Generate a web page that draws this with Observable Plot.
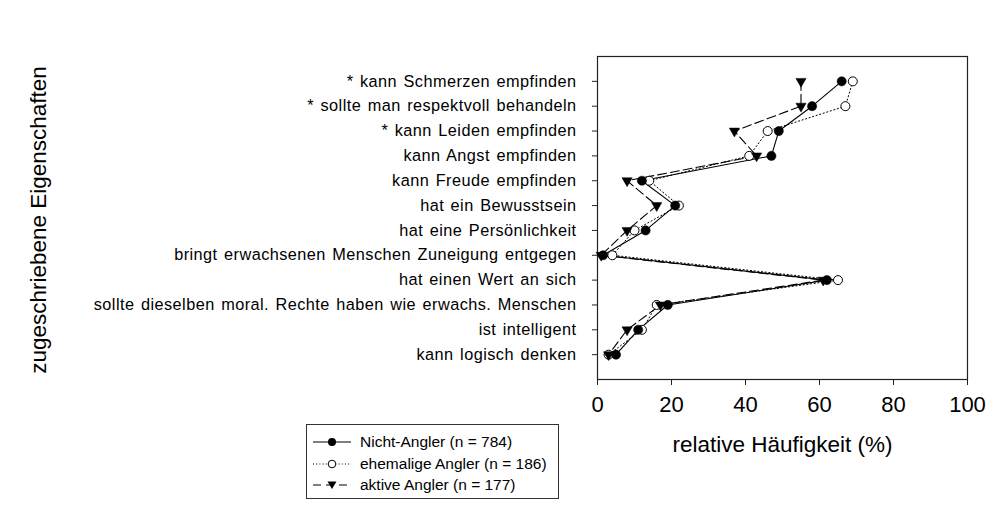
<!DOCTYPE html>
<html>
<head>
<meta charset="utf-8">
<script src="https://cdn.jsdelivr.net/npm/d3@7"></script>
<script src="https://cdn.jsdelivr.net/npm/@observablehq/plot@0.6"></script>
<style>
  body { margin: 0; background: #fff; font-family: "Liberation Sans", Arial, sans-serif; }
  #wrap { position: relative; width: 990px; height: 509px; }
  #legend { position: absolute; left: 306px; top: 424px; width: 251px; height: 73px;
            border: 1px solid #333; background: #fff; box-sizing: content-box; }
  .entry { position: absolute; left: 6px; height: 20px; display: flex; align-items: center;
           font-size: 15.5px; color: #000; white-space: nowrap; }
  .entry svg { margin-right: 9px; }
  .ylab text { letter-spacing: 0.45px; word-spacing: 1.5px; }
</style>
</head>
<body>
<div id="wrap"></div>
<script>
const categories = [
  "* kann Schmerzen empfinden",
  "* sollte man respektvoll behandeln",
  "* kann Leiden empfinden",
  "kann Angst empfinden",
  "kann Freude empfinden",
  "hat ein Bewusstsein",
  "hat eine Persönlichkeit",
  "bringt erwachsenen Menschen Zuneigung entgegen",
  "hat einen Wert an sich",
  "sollte dieselben moral. Rechte haben wie erwachs. Menschen",
  "ist intelligent",
  "kann logisch denken"
];
const nichtAngler      = [66, 58, 49, 47, 12, 21, 13, 1.5, 62, 19, 11, 5];
const ehemaligeAngler  = [69, 67, 46, 41, 14, 22, 10, 4, 65, 16, 12, 3];
const aktiveAngler     = [55, 55, 37, 43, 8, 16, 8, 1, 61, 17, 8, 3];
const seriesNames = ["Nicht-Angler (n = 784)", "ehemalige Angler (n = 186)", "aktive Angler (n = 177)"];
const xTicks = [0, 20, 40, 60, 80, 100];
const xLabel = "relative Häufigkeit (%)";
const yLabel = "zugeschriebene Eigenschaften";

const toRows = (vals, s) => vals.map((v, i) => ({cat: categories[i], value: v, series: s}));
const nicht = toRows(nichtAngler, seriesNames[0]);
const ehem = toRows(ehemaligeAngler, seriesNames[1]);
const aktiv = toRows(aktiveAngler, seriesNames[2]);

const chart = Plot.plot({
  width: 990,
  height: 509,
  marginLeft: 597,
  marginRight: 23,
  marginTop: 56,
  marginBottom: 130,
  style: {fontFamily: "'Liberation Sans', Arial, sans-serif", color: "#000", background: "#fff"},
  x: {domain: [0, 100]},
  y: {type: "point", domain: categories, padding: 1, round: false},
  marks: [
    Plot.frame({stroke: "#222", strokeWidth: 1.2}),
    Plot.axisX({ticks: xTicks, tickSize: 6, tickPadding: 11, fontSize: 22, label: null, stroke: "#222"}),
    Plot.axisY({tickSize: 5, tickPadding: 16, fontSize: 16.3, label: null, stroke: "#222", className: "ylab"}),
    Plot.text([xLabel], {frameAnchor: "bottom", dy: 72, fontSize: 22.5}),
    Plot.text([yLabel], {frameAnchor: "left", textAnchor: "middle", rotate: -90, dx: -559, dy: 2, fontSize: 22.5}),
    Plot.line(ehem, {x: "value", y: "cat", stroke: "#000", strokeWidth: 1, strokeDasharray: "1.2,2.5"}),
    Plot.line(nicht, {x: "value", y: "cat", stroke: "#000", strokeWidth: 1.1}),
    Plot.line(aktiv, {x: "value", y: "cat", stroke: "#000", strokeWidth: 1.1, strokeDasharray: "9,4"}),
    Plot.dot(ehem, {x: "value", y: "cat", r: 4.5, fill: "#fff", stroke: "#000", strokeWidth: 1}),
    Plot.dot(nicht, {x: "value", y: "cat", r: 4.6, fill: "#000", stroke: "#000", strokeWidth: 0.5}),
    Plot.dot(aktiv, {x: "value", y: "cat", symbol: "triangle", r: 3.8, rotate: 180, fill: "#000", stroke: "#000", strokeWidth: 0.5})
  ]
});

const wrap = document.getElementById("wrap");
wrap.appendChild(chart);

const legend = document.createElement("div");
legend.id = "legend";
const swatches = [
  `<line x1="0" y1="7" x2="38" y2="7" stroke="#000" stroke-width="1.2"/><circle cx="19" cy="7" r="4" fill="#000"/>`,
  `<line x1="0" y1="7" x2="38" y2="7" stroke="#000" stroke-width="1" stroke-dasharray="1,2.2"/><circle cx="19" cy="7" r="3.8" fill="#fff" stroke="#000"/>`,
  `<line x1="0" y1="7" x2="38" y2="7" stroke="#000" stroke-width="1.2" stroke-dasharray="8,5"/><path d="M14.5,3.5 L23.5,3.5 L19,11 Z" fill="#000"/>`
];
seriesNames.forEach((name, i) => {
  const e = document.createElement("div");
  e.className = "entry";
  e.style.top = (7 + i * 21.5) + "px";
  e.innerHTML = `<svg width="38" height="14">${swatches[i]}</svg><span>${name}</span>`;
  legend.appendChild(e);
});
wrap.appendChild(legend);
</script>
</body>
</html>
